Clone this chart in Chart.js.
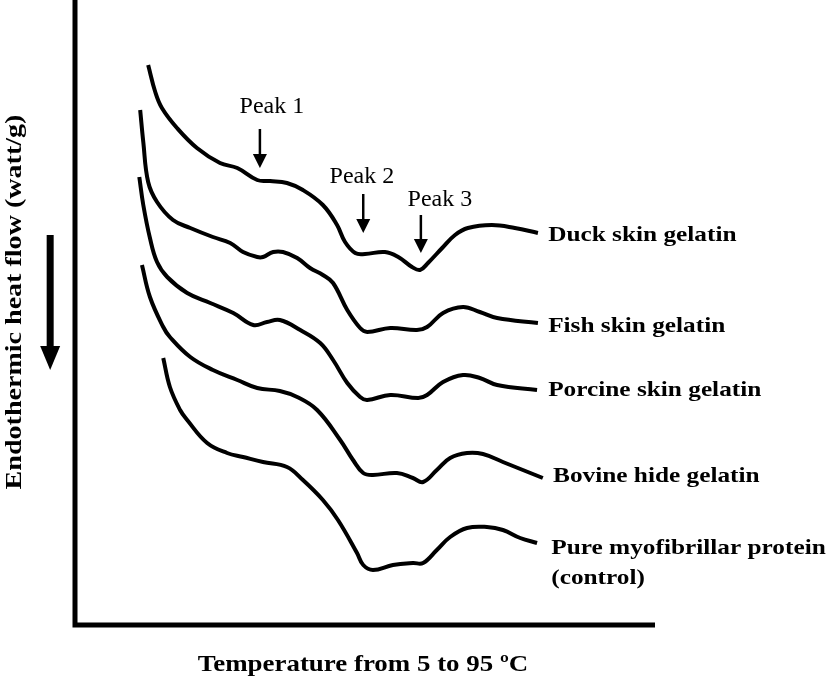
<!DOCTYPE html>
<html>
<head>
<meta charset="utf-8">
<script src="https://cdn.jsdelivr.net/npm/chart.js@4.4.0/dist/chart.umd.min.js"></script>
<style>
html, body { margin: 0; padding: 0; background: #fff; }
</style>
</head>
<body>
<canvas id="chart1" width="827" height="683"></canvas>
<script>
// temperature (°C) and heat flow (arbitrary units, curves offset)
const duckT = [6.7, 8.3, 9.8, 13.2, 17.7, 22.9, 26.8, 31.3, 34.2, 38.0, 41.6, 46.1, 49.3, 51.1, 53.4, 55.6, 60.1, 63.1, 66.2, 68.0, 69.8, 73.0, 75.9, 78.8, 84.2, 89.4, 94.6];
const duckY = [56.0, 53.3, 51.7, 49.7, 47.7, 46.2, 45.7, 44.5, 44.4, 44.2, 43.5, 42.0, 40.0, 38.3, 37.2, 37.1, 37.3, 36.8, 35.8, 35.5, 36.2, 37.7, 39.0, 39.7, 40.0, 39.7, 39.2];

const fishT = [4.9, 5.6, 6.7, 8.7, 12.3, 16.2, 21.3, 25.2, 28.1, 31.3, 32.6, 34.9, 37.1, 40.3, 43.2, 46.1, 48.4, 51.6, 54.5, 56.1, 61.3, 67.3, 69.6, 73.2, 77.7, 81.5, 85.4, 94.6];
const fishY = [51.5, 48.3, 44.3, 42.3, 40.5, 39.7, 38.8, 38.2, 37.3, 36.8, 36.8, 37.3, 37.3, 36.7, 35.7, 35.0, 34.2, 31.5, 29.7, 29.3, 29.7, 29.5, 29.8, 31.2, 31.8, 31.3, 30.7, 30.2];

const porcineT = [4.7, 5.6, 7.1, 8.7, 11.0, 15.5, 20.7, 25.9, 30.4, 33.5, 36.4, 41.0, 45.5, 48.4, 51.6, 54.5, 56.1, 61.3, 67.6, 69.6, 73.2, 77.7, 81.5, 85.4, 94.4];
const porcineY = [44.8, 42.0, 38.7, 36.3, 34.8, 33.2, 32.2, 31.2, 30.0, 30.3, 30.5, 29.5, 28.2, 26.5, 24.2, 22.8, 22.5, 23.0, 22.7, 23.0, 24.3, 25.0, 24.7, 24.0, 23.5];

const bovineT = [5.3, 7.1, 10.1, 11.6, 16.2, 21.3, 26.8, 31.3, 36.4, 40.3, 44.8, 50.0, 52.9, 55.2, 57.4, 62.8, 66.4, 68.7, 71.8, 74.8, 78.6, 82.2, 86.7, 95.7];
const bovineY = [36.0, 32.8, 29.8, 28.8, 26.8, 25.5, 24.5, 23.7, 23.4, 22.8, 21.5, 18.5, 16.5, 15.2, 15.0, 15.2, 14.7, 14.3, 15.5, 16.7, 17.2, 17.1, 16.3, 14.7];

const controlT = [10.1, 11.6, 13.9, 15.5, 20.0, 24.5, 28.1, 32.6, 38.0, 41.6, 46.1, 49.5, 53.8, 55.2, 57.4, 61.9, 66.4, 68.7, 71.8, 74.8, 78.6, 83.1, 86.7, 90.6, 94.4];
const controlY = [26.7, 23.8, 21.5, 20.5, 18.2, 17.2, 16.8, 16.3, 15.8, 14.5, 12.5, 10.5, 7.2, 6.0, 5.5, 6.0, 6.2, 6.2, 7.5, 8.8, 9.7, 9.8, 9.5, 8.7, 8.2];

const seriesNames = ["Duck skin gelatin", "Fish skin gelatin", "Porcine skin gelatin", "Bovine hide gelatin", "Pure myofibrillar protein"];
const labelT = [96.9, 96.9, 96.9, 98.0, 97.6];
const labelY = [39.0, 29.9, 23.5, 14.9, 7.7];

const peakNames = ["Peak 1", "Peak 2", "Peak 3"];
const peakTextT = [34.6, 54.9, 72.5];
const peakTextY = [51.8, 44.8, 42.5];
const peakArrowT = [31.9, 55.2, 68.2];
const peakArrowTop = [49.6, 43.1, 41.0];
const peakArrowTip = [45.7, 39.2, 37.2];

const xTitle = "Temperature from 5 to 95 \u00BAC";
const yTitle = "Endothermic heat flow (watt/g)";

function pts(t, y) {
    return t.map((v, i) => ({x: v, y: y[i]}));
}

function stretchText(ctx, text, x, y, sx) {
    ctx.save();
    ctx.translate(x, y);
    ctx.scale(sx, 1);
    ctx.fillText(text, 0, 0);
    ctx.restore();
}

const decor = {
    id: 'decor',
    afterDatasetsDraw(chart) {
        const ctx = chart.ctx;
        const xs = chart.scales.x, ys = chart.scales.y;
        const a = chart.chartArea;
        ctx.save();
        ctx.fillStyle = '#000';
        ctx.strokeStyle = '#000';

        // axes
        ctx.lineWidth = 5;
        ctx.beginPath();
        ctx.moveTo(a.left, 0);
        ctx.lineTo(a.left, a.bottom);
        ctx.lineTo(a.right, a.bottom);
        ctx.stroke();

        // curve names
        ctx.font = "bold 22px 'Liberation Serif'";
        ctx.textAlign = 'left';
        ctx.textBaseline = 'middle';
        seriesNames.forEach((n, i) => {
            stretchText(ctx, n, xs.getPixelForValue(labelT[i]), ys.getPixelForValue(labelY[i]), 1.15);
        });
        stretchText(ctx, "(control)", xs.getPixelForValue(labelT[4]), ys.getPixelForValue(labelY[4] - 3.0), 1.15);

        // peaks
        ctx.font = "24px 'Liberation Serif'";
        ctx.textAlign = 'center';
        peakNames.forEach((n, i) => {
            ctx.fillText(n, xs.getPixelForValue(peakTextT[i]), ys.getPixelForValue(peakTextY[i]));
            const px = xs.getPixelForValue(peakArrowT[i]);
            const top = ys.getPixelForValue(peakArrowTop[i]);
            const tip = ys.getPixelForValue(peakArrowTip[i]);
            ctx.lineWidth = 2.5;
            ctx.beginPath();
            ctx.moveTo(px, top);
            ctx.lineTo(px, tip - 10);
            ctx.stroke();
            ctx.beginPath();
            ctx.moveTo(px - 7, tip - 14);
            ctx.lineTo(px + 7, tip - 14);
            ctx.lineTo(px, tip);
            ctx.closePath();
            ctx.fill();
        });

        // endothermic direction arrow
        const ax = xs.getPixelForValue(-15.4);
        const aTop = ys.getPixelForValue(39.0);
        const aTip = ys.getPixelForValue(25.5);
        ctx.fillRect(ax - 3.5, aTop, 7, aTip - aTop - 20);
        ctx.beginPath();
        ctx.moveTo(ax - 10, aTip - 24);
        ctx.lineTo(ax + 10, aTip - 24);
        ctx.lineTo(ax, aTip);
        ctx.closePath();
        ctx.fill();

        // axis titles
        ctx.font = "bold 23px 'Liberation Serif'";
        ctx.textAlign = 'center';
        ctx.textBaseline = 'middle';
        stretchText(ctx, xTitle, 363, 665, 1.17);
        ctx.save();
        ctx.translate(15, 302);
        ctx.rotate(-Math.PI / 2);
        stretchText(ctx, yTitle, 0, 0, 1.22);
        ctx.restore();

        ctx.restore();
    }
};

function curve(data) {
    return {
        data: data,
        borderColor: '#000',
        borderWidth: 4,
        borderJoinStyle: 'round',
        borderCapStyle: 'butt',
        pointRadius: 0,
        tension: 0.4,
        fill: false
    };
}

new Chart("chart1", {
    type: "line",
    data: {
        datasets: [
            curve(pts(duckT, duckY)),
            curve(pts(fishT, fishY)),
            curve(pts(porcineT, porcineY)),
            curve(pts(bovineT, bovineY)),
            curve(pts(controlT, controlY))
        ]
    },
    options: {
        responsive: false,
        animation: false,
        layout: {
            padding: {left: 75, right: 172, top: 0, bottom: 58}
        },
        plugins: {
            legend: {display: false},
            tooltip: {enabled: false}
        },
        scales: {
            x: {type: 'linear', display: false, min: -9.8, max: 121},
            y: {type: 'linear', display: false, min: 0, max: 62.5}
        }
    },
    plugins: [decor]
});
</script>
</body>
</html>
